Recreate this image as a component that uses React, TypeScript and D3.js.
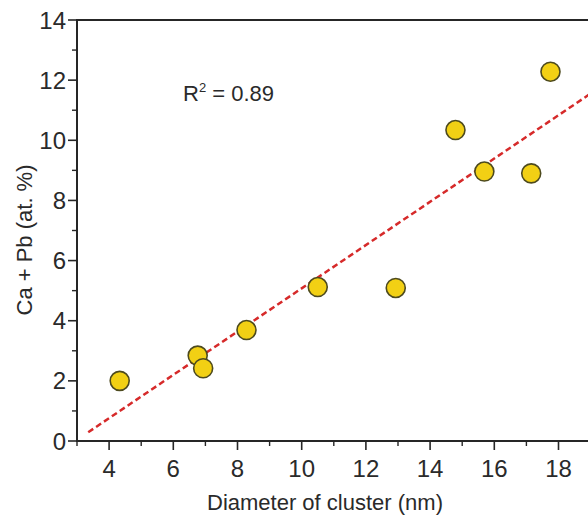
import React from "react";
import * as d3 from "d3";

const diameters = [4.33, 6.76, 6.93, 8.28, 10.5, 12.93, 14.79, 15.69, 17.15, 17.75];
const caPb = [2.0, 2.84, 2.42, 3.69, 5.12, 5.09, 10.34, 8.96, 8.9, 12.28];
const xTicks = [4, 6, 8, 10, 12, 14, 16, 18];
const xMinor = [3, 5, 7, 9, 11, 13, 15, 17, 19];
const yTicks = [0, 2, 4, 6, 8, 10, 12, 14];
const yMinor = [1, 3, 5, 7, 9, 11, 13];
const fitStart = 3.35;
const r2Label = "0.89";

const W = 588;
const H = 523;
const left = 77;
const top = 20;
const bottom = 441;
const right = 590.6;

export default function App() {
  const x = d3.scaleLinear().domain([3, 19]).range([left, right]);
  const y = d3.scaleLinear().domain([0, 14]).range([bottom, top]);

  const mx = d3.mean(diameters)!;
  const my = d3.mean(caPb)!;
  let sxy = 0,
    sxx = 0;
  diameters.forEach((d, i) => {
    sxy += (d - mx) * (caPb[i] - my);
    sxx += (d - mx) * (d - mx);
  });
  const slope = sxy / sxx;
  const intercept = my - slope * mx;
  const fitX = [fitStart, 19];
  const line = d3
    .line<number>()
    .x((d) => x(d))
    .y((d) => y(slope * d + intercept));

  const font = "Arial, 'Liberation Sans', sans-serif";
  const axisColor = "#262626";
  const textColor = "#2a2a2a";

  return (
    <svg
      width={W}
      height={H}
      style={{ position: "absolute", left: 0, top: 0, background: "#fff" }}
      fontFamily={font}
    >
      <defs>
        <clipPath id="plot">
          <rect x={left} y={top - 5} width={W - left} height={bottom - top + 5} />
        </clipPath>
      </defs>
      {/* frame */}
      <line x1={left} x2={W} y1={top} y2={top} stroke={axisColor} strokeWidth={2} />
      <line x1={left} x2={left} y1={top - 1} y2={bottom + 1} stroke={axisColor} strokeWidth={2} />
      <line x1={left - 1} x2={W} y1={bottom} y2={bottom} stroke={axisColor} strokeWidth={2} />
      {/* y ticks */}
      {yTicks.map((t) => (
        <g key={"y" + t}>
          <line x1={left - 9} x2={left} y1={y(t)} y2={y(t)} stroke={axisColor} strokeWidth={1.6} />
          <text x={left - 11} y={y(t)} dy="0.36em" textAnchor="end" fontSize={24} fill={textColor}>
            {t}
          </text>
        </g>
      ))}
      {yMinor.map((t) => (
        <line key={"ym" + t} x1={left - 5} x2={left} y1={y(t)} y2={y(t)} stroke={axisColor} strokeWidth={1.4} />
      ))}
      {/* x ticks */}
      {xTicks.map((t) => (
        <g key={"x" + t}>
          <line x1={x(t)} x2={x(t)} y1={bottom} y2={bottom + 9} stroke={axisColor} strokeWidth={1.6} />
          <text x={x(t)} y={bottom + 36} textAnchor="middle" fontSize={24} fill={textColor}>
            {t}
          </text>
        </g>
      ))}
      {xMinor.map((t) => (
        <line key={"xm" + t} x1={x(t)} x2={x(t)} y1={bottom} y2={bottom + 5} stroke={axisColor} strokeWidth={1.4} />
      ))}
      {/* titles */}
      <text x={325} y={510} textAnchor="middle" fontSize={22} fill={textColor}>
        Diameter of cluster (nm)
      </text>
      <text
        transform={`translate(32,240) rotate(-90)`}
        textAnchor="middle"
        fontSize={22}
        fill={textColor}
      >
        Ca + Pb (at. %)
      </text>
      <text x={183} y={101} fontSize={22} fill={textColor}>
        R<tspan fontSize={13} dy={-9}>2</tspan>
        <tspan dy={9}> = {r2Label}</tspan>
      </text>
      {/* fit line */}
      <g clipPath="url(#plot)">
        <path
          d={line(fitX) || ""}
          fill="none"
          stroke="#d62a2a"
          strokeWidth={2.5}
          strokeDasharray="6,3.5"
        />
        {diameters.map((d, i) => (
          <circle
            key={i}
            cx={x(d)}
            cy={y(caPb[i])}
            r={9.5}
            fill="#f2d014"
            stroke="#4d4a1e"
            strokeWidth={1.6}
          />
        ))}
      </g>
    </svg>
  );
}
